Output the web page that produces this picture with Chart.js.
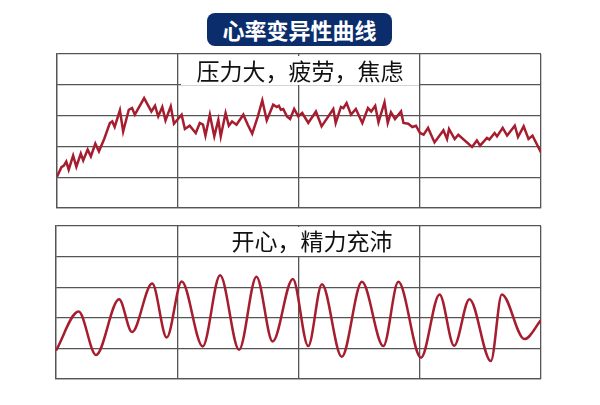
<!DOCTYPE html>
<html>
<head>
<meta charset="utf-8">
<script src="https://cdn.jsdelivr.net/npm/chart.js@4.4.1/dist/chart.umd.min.js"></script>
<style>
  body { margin: 0; background: #fff; width: 600px; height: 405px; position: relative; overflow: hidden;
         font-family: "Noto Sans CJK SC", "Noto Sans", sans-serif; }
  canvas { position: absolute; }
  .title { position: absolute; left: 207px; top: 13px; width: 185px; height: 33px; background: #0b2d6c;
           border-radius: 8px; color: #fff; font-weight: bold; font-size: 22px; line-height: 33px; text-align: center; }
  .label { position: absolute; background: #fff; color: #111; font-size: 23px; text-align: center; }
</style>
</head>
<body>
<div class="title">心率变异性曲线</div>
<canvas id="chartStress" width="488" height="158" style="left:55px;top:52px"></canvas>
<canvas id="chartHappy" width="489" height="157" style="left:54px;top:224px"></canvas>
<div class="label" style="left:181px;top:56px;width:238px;height:29px;line-height:28px;">压力大，疲劳，焦虑</div>
<div class="label" style="left:181px;top:227px;width:238px;height:29px;line-height:27px;padding-left:24px;box-sizing:border-box;">开心，精力充沛</div>
<script>
var titulos = ['心率变异性曲线', '压力大，疲劳，焦虑', '开心，精力充沛'];

// tempo (s) e valor da curva de estresse
var tempoEstresse = [0, 1.1, 1.7, 2.3, 2.9, 4.0, 4.8, 5.9, 6.5, 7.6, 8.4, 9.5, 10.4, 11.7, 13.1, 13.7, 14.3, 15.6, 16.4, 17.8,
  18.6, 19.3, 21.6, 23.4, 24.3, 25.1, 26.1, 26.9, 28.2, 29.0, 30.9, 31.7, 32.9, 34.4, 35.4, 36.2, 36.8, 37.9, 39.0, 40.0,
  40.6, 41.8, 42.6, 43.4, 44.5, 46.2, 47.3, 48.4, 49.8, 50.9, 52.0, 53.6, 54.5, 55.0, 55.5, 56.1, 57.0, 57.8, 58.8, 59.8,
  60.8, 62.3, 64.2, 65.6, 68.5, 69.1, 70.4, 71.0, 71.8, 72.9, 74.1, 75.7, 77.1, 77.9, 78.9, 79.7, 81.2, 82.0, 82.8, 83.8,
  85.3, 85.9, 87.1, 88.1, 89.0, 90.0, 90.9, 92.0, 93.6, 95.8, 96.7, 97.2, 98.6, 99.5, 102.9, 104.1, 104.9, 106.6, 107.2, 108.5,
  109.1, 110.5, 111.6, 113.5, 114.3, 115.7, 116.9, 117.9, 120];
var valorEstresse = [20.3, 26.5, 27.5, 30.1, 24.9, 34.0, 26.8, 35.3, 30.9, 37.9, 33.5, 41.8, 36.8, 44.8, 55.2, 56.2, 52.6, 63.4, 49.7, 63.8,
  64.9, 60.6, 71.4, 62.7, 66.4, 59.5, 65.6, 56.9, 66.0, 54.7, 60.6, 51.3, 53.4, 48.7, 55.2, 54.1, 47.0, 60.6, 46.5, 57.3,
  46.5, 61.7, 53.4, 56.2, 54.1, 60.6, 54.1, 48.3, 59.5, 69.9, 56.9, 67.1, 65.6, 66.4, 63.8, 64.3, 59.5, 57.8, 64.3, 59.5,
  61.7, 55.2, 62.7, 53.0, 64.3, 55.2, 65.6, 64.9, 68.2, 60.6, 64.3, 55.2, 64.9, 62.7, 66.4, 55.6, 68.6, 55.2, 62.1, 57.8,
  62.7, 55.2, 54.7, 52.6, 53.4, 48.7, 47.6, 52.0, 42.6, 50.4, 44.8, 51.3, 44.8, 47.6, 39.6, 43.9, 40.5, 45.5, 44.4, 48.7,
  46.5, 52.0, 47.0, 53.4, 46.1, 53.0, 44.8, 47.0, 36.1];

// curva tranquila: picos e vales
var tempoCalmo = [0, 5.6, 9.9, 15.6, 18.8, 23.8, 27.4, 31.1, 36.3, 40.6, 45.3, 49.6, 53.6, 58.6, 62.4, 65.8, 70.7, 75.7,
  81.0, 84.7, 90.3, 94.9, 98.5, 102.3, 107.6, 110.3, 115.9, 120];
var valorCalmo = [18.6, 44.1, 15.7, 52.1, 30.7, 62.4, 27.1, 63.7, 21.3, 67.8, 19.1, 66.9, 24.5, 65.4, 21.5, 62.0, 14.5, 63.5,
  21.5, 63.5, 13.9, 55.3, 21.7, 52.2, 11.7, 55.3, 26.1, 38.5];

var ctxEstresse = document.getElementById('chartStress');
var ctxCalmo = document.getElementById('chartHappy');

function pontos(xs, ys) {
    return xs.map(function (x, i) { return { x: x, y: ys[i] }; });
}

function opcoes() {
    return {
        responsive: false,
        animation: false,
        layout: { padding: 2 },
        plugins: {
            legend: { display: false },
            tooltip: { enabled: false }
        },
        scales: {
            x: {
                type: 'linear',
                min: 0,
                max: 120,
                ticks: { display: false, stepSize: 30 },
                grid: { color: '#555', lineWidth: 1.3, drawTicks: false },
                border: { color: '#555', width: 1.3 }
            },
            y: {
                min: 0,
                max: 100,
                ticks: { display: false, stepSize: 20 },
                grid: { color: '#555', lineWidth: 1.3, drawTicks: false },
                border: { color: '#555', width: 1.3 }
            }
        }
    };
}

// GRÁFICO DE ESTRESSE
new Chart(ctxEstresse, {
    type: 'line',
    data: {
        datasets: [{
            label: titulos[1],
            data: pontos(tempoEstresse, valorEstresse),
            borderColor: '#a51d2e',
            borderWidth: 2.5,
            pointRadius: 0,
            tension: 0
        }]
    },
    options: opcoes()
});

// GRÁFICO CALMO
new Chart(ctxCalmo, {
    type: 'line',
    data: {
        datasets: [{
            label: titulos[2],
            data: pontos(tempoCalmo, valorCalmo),
            borderColor: '#a51d2e',
            borderWidth: 2.5,
            pointRadius: 0,
            cubicInterpolationMode: 'monotone'
        }]
    },
    options: opcoes()
});
</script>
</body>
</html>
